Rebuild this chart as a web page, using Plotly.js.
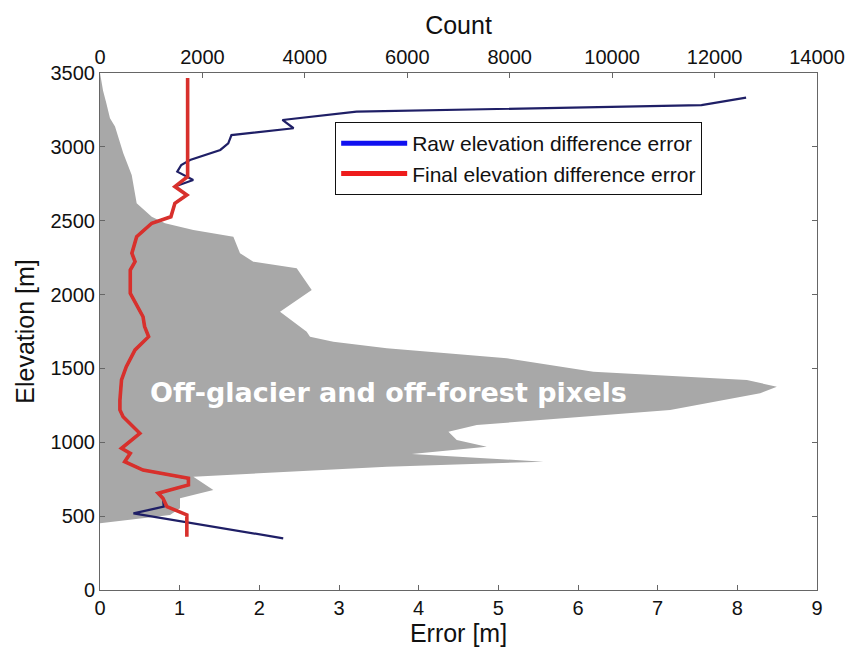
<!DOCTYPE html>
<html>
<head>
<meta charset="utf-8">
<script src="https://cdn.plot.ly/plotly-3.0.1.min.js"></script>
<style>html,body{margin:0;padding:0;background:#fff;}#chart{width:849px;height:649px;}</style>
</head>
<body>
<div id="chart"></div>
<script>
// Final elevation difference error [m] vs elevation [m]
const finalElev = [361, 508, 564, 621, 655, 711, 756, 812, 869, 925, 959, 1061, 1173, 1219, 1286, 1422, 1512, 1625, 1715, 1783, 1850, 2009, 2166, 2223, 2280, 2392, 2483, 2527, 2618, 2674, 2731, 2798, 3466];
const finalErr  = [1.09, 1.09, 0.84, 0.79, 0.73, 1.11, 1.11, 0.54, 0.31, 0.38, 0.27, 0.50, 0.29, 0.25, 0.25, 0.27, 0.33, 0.44, 0.61, 0.56, 0.54, 0.38, 0.38, 0.44, 0.40, 0.46, 0.65, 0.89, 0.94, 1.09, 0.94, 1.10, 1.10];

// Raw elevation difference error [m] vs elevation [m]
const rawElev = [350, 519, 564, 621, 655, 711, 756, 812, 869, 925, 959, 1061, 1173, 1219, 1286, 1422, 1512, 1625, 1715, 1783, 1850, 2009, 2166, 2223, 2280, 2392, 2483, 2527, 2618, 2674, 2731, 2776, 2832, 2877, 2911, 2979, 3024, 3080, 3126, 3182, 3238, 3283, 3333];
const rawErr  = [2.30, 0.42, 0.80, 0.79, 0.73, 1.11, 1.11, 0.54, 0.31, 0.38, 0.27, 0.50, 0.29, 0.25, 0.25, 0.27, 0.33, 0.44, 0.61, 0.56, 0.54, 0.38, 0.38, 0.44, 0.40, 0.46, 0.65, 0.89, 0.94, 1.09, 0.94, 1.17, 0.97, 1.02, 1.13, 1.51, 1.61, 1.65, 2.43, 2.29, 3.22, 7.55, 8.11];

// Pixel count histogram (off-glacier and off-forest) vs elevation
const histElev  = [3500, 3450, 3380, 3300, 3193, 3137, 2956, 2810, 2618, 2527, 2483, 2437, 2392, 2280, 2223, 2178, 2031, 1884, 1749, 1715, 1681, 1636, 1602, 1569, 1478, 1422, 1376, 1332, 1219, 1117, 1072, 1016, 970, 921, 869, 835, 767, 677, 621, 553, 508, 452];
const histCount = [0, 20, 60, 120, 195, 293, 455, 619, 716, 1010, 1270, 1823, 2604, 2734, 2994, 3841, 4134, 3515, 4036, 4101, 4556, 5600, 6771, 7943, 9634, 12630, 13216, 12890, 11132, 7357, 6803, 6966, 7552, 6087, 8658, 5600, 1823, 2213, 1562, 1562, 1367, 0];

const seriesNames = ['Raw elevation difference error', 'Final elevation difference error'];
const areaLabel = 'Off-glacier and off-forest pixels';
const xTitle = 'Error [m]';
const x2Title = 'Count';
const yTitle = 'Elevation [m]';

const tickFont = {family: 'Liberation Sans, Arial, sans-serif', size: 20, color: '#111'};
const titleFont = {family: 'Liberation Sans, Arial, sans-serif', size: 25, color: '#111'};

// Count axis is the base x axis (drawn first, underneath); the Error axis overlays it.
const traces = [
  {x: histCount, y: histElev, xaxis: 'x', yaxis: 'y', type: 'scatter', mode: 'lines',
   fill: 'tozerox', fillcolor: '#a8a8a8', line: {width: 0, color: '#a8a8a8'}, showlegend: false, hoverinfo: 'skip'},
  {x: rawErr, y: rawElev, xaxis: 'x2', yaxis: 'y', type: 'scatter', mode: 'lines', line: {color: '#1f1f66', width: 2.2}, showlegend: false},
  {x: finalErr, y: finalElev, xaxis: 'x2', yaxis: 'y', type: 'scatter', mode: 'lines', line: {color: '#d8302c', width: 3.6}, showlegend: false},
  {x: [null], y: [null], xaxis: 'x2', yaxis: 'y', type: 'scatter', mode: 'lines', name: seriesNames[0], line: {color: '#1010f0', width: 5}},
  {x: [null], y: [null], xaxis: 'x2', yaxis: 'y', type: 'scatter', mode: 'lines', name: seriesNames[1], line: {color: '#ee1c1c', width: 5}}
];

const layout = {
  width: 849, height: 649,
  margin: {l: 100, r: 32, t: 73, b: 59},
  paper_bgcolor: '#fff', plot_bgcolor: '#fff',
  showlegend: true,
  legend: {x: 0.328, y: 0.905, xanchor: 'left', yanchor: 'top', bgcolor: '#fff',
           bordercolor: '#111', borderwidth: 1, itemwidth: 66,
           font: {family: 'Liberation Sans, Arial, sans-serif', size: 21, color: '#111'}},
  xaxis: {range: [0, 14000], dtick: 2000, tick0: 0, side: 'top', anchor: 'y', tickformat: 'd',
          ticks: 'inside', ticklen: 5, tickcolor: '#666', showline: true, linecolor: '#666', linewidth: 1,
          showgrid: false, zeroline: false, tickfont: tickFont,
          title: {text: x2Title, font: titleFont, standoff: 4}},
  xaxis2: {range: [0, 9], dtick: 1, tick0: 0, overlaying: 'x', side: 'bottom', anchor: 'y',
           ticks: 'inside', ticklen: 5, tickcolor: '#666',
           showline: true, linecolor: '#666', linewidth: 1, showgrid: false, zeroline: false,
           tickfont: tickFont, title: {text: xTitle, font: titleFont, standoff: 6}},
  yaxis: {range: [0, 3500], dtick: 500, tick0: 0, ticks: 'inside', ticklen: 5, tickcolor: '#666',
          showline: true, linecolor: '#666', linewidth: 1, mirror: 'ticks', showgrid: false, zeroline: false,
          tickfont: tickFont, title: {text: yTitle, font: titleFont, standoff: 8}},
  annotations: [
    {x: 3.615, y: 1334, xref: 'x2', yref: 'y', text: '<b>' + areaLabel + '</b>', showarrow: false,
     font: {family: 'DejaVu Sans, sans-serif', size: 27, color: '#ffffff'}, xanchor: 'center', yanchor: 'middle'}
  ]
};

Plotly.newPlot('chart', traces, layout, {displayModeBar: false, staticPlot: true});
</script>
</body>
</html>
